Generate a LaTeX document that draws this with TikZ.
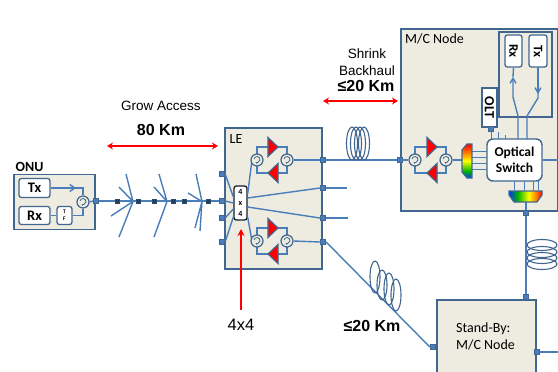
\documentclass[tikz,border=0pt]{standalone}
\usepackage{fontspec}
\setmainfont{Carlito}
\newfontfamily\arialf{Liberation Sans}
\usetikzlibrary{arrows.meta,calc}
\definecolor{fib}{HTML}{4A7EBB}
\definecolor{edgeb}{HTML}{41668F}
\definecolor{paper}{HTML}{EEECE1}
\pgfdeclareverticalshading{rbv}{100bp}{color(0bp)=(blue!80!cyan);color(25bp)=(blue!80!cyan);color(35bp)=(green!70!black);color(50bp)=(yellow);color(62bp)=(orange);color(75bp)=(red);color(100bp)=(red)}
\pgfdeclarehorizontalshading{rbh}{100bp}{color(0bp)=(blue!80!cyan);color(25bp)=(blue!80!cyan);color(38bp)=(green!70!black);color(55bp)=(yellow);color(66bp)=(orange);color(75bp)=(red);color(100bp)=(red)}
\tikzset{
 x=1pt,y=-1pt,
 bluebox/.style={draw=edgeb,line width=1.6pt,fill=paper,anchor=north west,inner sep=0pt},
 whitebox/.style={draw=edgeb,line width=1.3pt,fill=white,rounded corners=2.4pt,inner sep=0pt,font=\bfseries},
 port/.style={draw=edgeb,fill=fib,minimum size=5.5pt,inner sep=0pt,line width=.8pt},
 tinyport/.style={draw=fib!60!black,fill=edgeb!60!black,minimum size=3.6pt,inner sep=0pt},
 fibre/.style={draw=fib,line width=1.4pt},
 spoke/.style={draw=fib,line width=1.4pt},
 coil/.style={draw=edgeb,line width=1.1pt},
 circu/.style={circle,draw=edgeb,line width=1.2pt,fill=paper,minimum size=12pt,inner sep=0pt,
   path picture={\draw[edgeb,line width=.8pt,-{Stealth[length=2.5pt]}] ([shift={(-3pt,1pt)}]path picture bounding box.center) arc[start angle=170,end angle=-120,radius=3pt];}},
 redarrow/.style={draw=red,line width=1.5pt,{Stealth[length=6pt,width=7pt]}-{Stealth[length=6pt,width=7pt]}},
 redup/.style={draw=red,line width=1.5pt,-{Stealth[length=7pt,width=7pt]}},
 lab/.style={inner sep=0pt,font=\fontsize{14}{16}\selectfont},
 arlab/.style={inner sep=0pt,font=\arialf\fontsize{13.5}{17.5}\selectfont},
 bigl/.style={inner sep=0pt,font=\arialf\bfseries\fontsize{16}{18}\selectfont},
 amp/.style={fill=red,draw=edgeb,line width=1.2pt,line join=miter},
}
\newcommand{\ampr}[2]{\path[amp] (#1,#2-9.5) -- (#1+10,#2) -- (#1,#2+9.5) -- cycle;}
\newcommand{\ampl}[2]{\path[amp] (#1+10,#2-9.5) -- (#1,#2) -- (#1+10,#2+9.5) -- cycle;}
\begin{document}
\begin{tikzpicture}
\useasboundingbox (0,0) rectangle (558,372);
\fill[white] (0,0) rectangle (558,372);

% ---- ONU
\node[bluebox,minimum width=81pt,minimum height=55pt] (onu) at (13,173.5) {};
\node[lab,font=\bfseries\fontsize{14}{16}\selectfont] (onul) at (29.5,167) {ONU};
\node[whitebox,minimum width=31pt,minimum height=19pt,font=\bfseries\fontsize{14.5}{16}\selectfont] (tx) at (34.5,188) {Tx};
\node[whitebox,minimum width=31pt,minimum height=18pt,font=\bfseries\fontsize{14.5}{16}\selectfont] (rx) at (34.5,215.5) {Rx};
\node[whitebox,minimum width=15pt,minimum height=18pt,align=center,font=\bfseries\fontsize{5.5}{7}\selectfont] (tf) at (64.5,215.5) {T\\F};
\node[circu] (c0) at (83,202) {};
\node[port] (p0) at (96,201) {};
\draw[fibre] (tx.east) -- (83,188) -- (c0.north);
\draw[fibre,-{Straight Barb[length=5pt,width=7pt]}] (tx.east) -- (76,188);
\draw[fibre] (rx.east) -- (tf.west);
\draw[fibre] (tf.east) -- (83,215.5) -- (c0.south);
\draw[fibre] (c0.east) -- (p0.west);

% ---- distribution tree
\node[tinyport] (s1) at (117,201) {};
\coordinate (v1) at (133,201.5);
\node[tinyport] (s2) at (138,201) {};
\node[tinyport] (s3) at (154,201) {};
\coordinate (v2) at (167,201.5);
\node[tinyport] (s4) at (173,201) {};
\node[tinyport] (s5) at (184,201) {};
\coordinate (v3) at (202,201.5);
\node[tinyport] (s6) at (208,201) {};
\coordinate (a1) at (126,174); \coordinate (a2) at (119,187); \coordinate (a3) at (111,216); \coordinate (a4) at (119,237);
\coordinate (b1) at (159,174); \coordinate (b2) at (154,187); \coordinate (b3) at (154,237);
\coordinate (d1) at (196,174); \coordinate (d2) at (188,193); \coordinate (d3) at (195,228); \coordinate (d4) at (200,231);
\draw[fibre] (p0.east) -- (s1) -- (s2) -- (s3) -- (s4) -- (s5) -- (s6) -- (222,201);
\draw[spoke] (a1) -- (v1) (a2) -- (v1) (a3) -- (v1) (a4) -- (v1);
\draw[spoke] (b1) -- (v2) (b2) -- (v2) (b3) -- (v2);
\draw[spoke] (d1) -- (v3) (d2) -- (v3) (d3) -- (v3) (d4) -- (v3);
\foreach \xx in {117,138,154,173,184,208}{\node[tinyport] at (\xx,201) {};}

% ---- LE
\node[bluebox,minimum width=97pt,minimum height=141pt] (le) at (224,127) {};
\node[lab] (lel) at (236,139) {LE};
\node[port] (lp1) at (222,174) {};
\node[port] (lp2) at (222,201) {};
\node[port] (lp3) at (222,218) {};
\node[port] (lp4) at (222,242) {};
\node[port] (rp1) at (323,160) {};
\node[port] (rp2) at (323,188) {};
\node[port] (rp3) at (323,218) {};
\node[port] (rp4) at (323,242) {};
\node[whitebox,draw=black!70!edgeb,minimum width=13pt,minimum height=34pt,align=center,font=\bfseries\fontsize{8}{11}\selectfont] (sw) at (240.5,203) {4\\x\\4};
\draw[fibre] (lp1.east) -- ($(sw.west)+(0,-6)$);
\draw[fibre] (lp2.east) -- (sw.west);
\draw[fibre] (lp3.east) -- ($(sw.west)+(0,6)$);
\draw[fibre] (lp4.east) -- ($(sw.west)+(0,14)$);
\draw[fibre] ($(sw.east)+(0,-9)$) -- (252,160);
\draw[fibre] ($(sw.east)+(0,-5)$) -- (rp2.west);
\draw[fibre] ($(sw.east)+(0,4)$) -- (rp3.west);
\draw[fibre] ($(sw.east)+(0,14)$) -- (252,241);
% repeaters
\draw[fibre] (257,147) rectangle (287,173);
\draw[fibre] (257,228) rectangle (287,254);
\ampr{268}{147}\ampl{268}{173}
\ampr{268}{228}\ampl{268}{254}
\node[circu] (c1) at (257,160) {};
\node[circu] (c2) at (287,160) {};
\node[circu] (c3) at (257,241) {};
\node[circu] (c4) at (287,241) {};
\draw[fibre] (c2.east) -- (rp1.west);
\draw[fibre] (c4.east) -- (rp4.west);

% stubs
\coordinate (st2) at (347,188);
\coordinate (st3) at (348,218);
\draw[fibre] (rp2.east) -- (st2);
\draw[fibre] (rp3.east) -- (st3);

% ---- M/C Node
\node[bluebox,minimum width=157pt,minimum height=182pt] (mc) at (400,28) {};
\node[lab,anchor=west] (mcl) at (405,39) {M/C Node};
\node[draw=edgeb,line width=1.6pt,fill=paper,anchor=north west,inner sep=0pt,minimum width=53pt,minimum height=85pt] (inner) at (498,31) {};
\node[whitebox,minimum width=17pt,minimum height=32pt] (mrx) at (513.5,51) {\rotatebox{-90}{\fontsize{13}{15}\selectfont Rx}};
\node[whitebox,minimum width=18pt,minimum height=32pt] (mtx) at (538,51) {\rotatebox{-90}{\fontsize{13}{15}\selectfont Tx}};
\node[draw=edgeb,line width=1.3pt,fill=white,inner sep=0pt,minimum width=15pt,minimum height=39pt,font=\bfseries] (olt) at (489.5,107.5) {\rotatebox{-90}{\fontsize{14}{16}\selectfont OLT}};
\node[port,minimum size=4.5pt] (oltp) at (491,129) {};
\node[port] (mcin) at (400,160) {};
\node[port] (mcb) at (526,213) {};
% mc repeater
\draw[fibre] (415,147) rectangle (446,173);
\ampr{427}{147}\ampl{427}{173}
\node[circu] (c5) at (415,160) {};
\node[circu] (c6) at (446,160) {};
\draw[fibre] (mcin.east) -- (c5.west);
% demux to switch lines
\node[draw=edgeb,line width=1.4pt,fill=white,rounded corners=6pt,minimum width=55pt,minimum height=42pt,inner sep=0pt,align=center,font=\bfseries\fontsize{13.5}{16.5}\selectfont] (os) at (514.5,160) {Optical\\Switch};
\foreach \yy in {151,157,163,169}{\draw[fibre,line width=1pt] (472,\yy) -- (487,\yy);}
\draw[fibre] (c6.east) -- (462,160);
\draw[edgeb,line width=1.2pt,shading=rbv] (467,144) -- (472,144) -- (472,178) -- (467,178) -- (462,172) -- (462,150) -- cycle;
% bottom mux
\foreach \xx in {514,524,533,538}{\draw[fibre,line width=1pt] (\xx,181) -- (\xx,190);}
\draw[edgeb,line width=1.2pt,shading=rbh] (509,191) -- (542,191) -- (542,195) -- (537,202) -- (514,202) -- (509,195) -- cycle;
\draw[fibre] (526,202) -- (mcb.north);
\draw[fibre] (os.east) -- (mc.east |- os.east);
\draw[fibre,line width=1pt] (oltp.south) -- (491,139);
\draw[fibre,line width=1pt] (498,132) -- (498,139) (505,135) -- (505,139);
% rx / tx lines
\coordinate (rxa) at (518,116); \coordinate (rxb) at (513,97);
\coordinate (txa) at (527,116); \coordinate (txb) at (538,98);
\draw[fibre,-{Straight Barb[length=5pt,width=6pt]}] (518,139) -- (rxa) -- (rxb) -- (513,77);
\draw[fibre] (513,77) -- (mrx.south);
\draw[fibre] (527,139) -- (txa) -- (txb) -- (538,67);
\draw[fibre,-{Straight Barb[length=5pt,width=6pt]}] (mtx.south) -- (538,94);

% coil 1
\draw[fibre] (rp1.east) -- (mcin.west);
\foreach \xx in {352,356,360,364}{\draw[coil] (\xx,143.5) ellipse[x radius=5.5,y radius=16.5];}

% ---- Stand-by
\node[bluebox,minimum width=99pt,minimum height=76pt] (sb) at (436,299) {};
\node[lab,align=left,anchor=west,font=\fontsize{14}{17}\selectfont] (sbl) at (456,336) {Stand-By:\\M/C Node};
\node[port] (sbt) at (526,297) {};
\node[port] (sbl2) at (433,347) {};
\node[port] (sbr) at (537,352) {};
\coordinate (sbe) at (558,352);
\draw[fibre] (sbr.east) -- (sbe);
\draw[fibre] (mcb.south) -- (sbt.north);
\draw[fibre] (rp4.east) -- (sbl2.west);
% coil vertical
\foreach \yy in {245,252,258,264}{\draw[coil] (542,\yy) ellipse[x radius=15,y radius=5.5];}
% coil diagonal
\foreach \xx/\yy/\ry in {375/277/16,382/285/15,389/289/16,396/295/16}{\draw[coil] (\xx,\yy) ellipse[x radius=5,y radius=\ry];}

% ---- labels and red arrows
\node[arlab] (grow) at (161,106) {Grow Access};
\node[bigl] (km80) at (161,130) {80 Km};
\coordinate (g1) at (107,146); \coordinate (g2) at (218,146);
\draw[redarrow] (g1) -- (g2);
\node[arlab,align=center] (shrink) at (367,62) {Shrink\\Backhaul};
\node[bigl] (km20) at (366,86) {≤20 Km};
\coordinate (h1) at (323,101); \coordinate (h2) at (398,101);
\draw[redarrow] (h1) -- (h2);
\node[arlab,font=\arialf\fontsize{16.5}{18}\selectfont] (l44) at (241,325) {4x4};
\coordinate (u1) at (241,310); \coordinate (u2) at (241,229);
\draw[redup] (u1) -- (u2);
\node[bigl] (km20b) at (372,326) {≤20 Km};
\end{tikzpicture}
\end{document}
